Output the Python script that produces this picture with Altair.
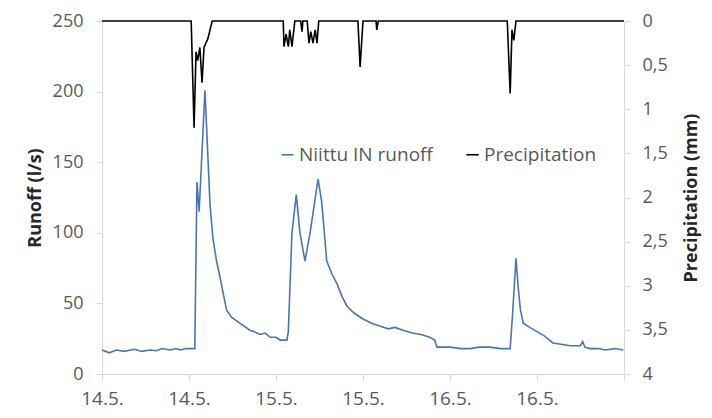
import json
import altair as alt
import pandas as pd

# Runoff (l/s), hours from 14.5. 00:00
run_h = [0, 1.0, 2.0, 3.0, 4.5, 5.5, 6.6, 7.5, 8.3, 9.4, 10.2, 10.8, 11.6, 12.1, 12.8,
         13.1, 13.4, 14.2, 14.9, 15.3, 15.8, 16.3, 16.8, 17.2, 17.9, 19.0, 20.4, 21.0,
         21.8, 22.5, 23.2, 24.0, 24.6, 25.5, 25.7, 26.2, 26.8, 27.3, 28.0, 28.7, 29.8,
         30.3, 31.0, 31.7, 32.4, 33.1, 33.8, 34.8, 36.0, 37.2, 38.3, 39.5, 40.4, 41.5,
         42.8, 44.0, 45.2, 45.9, 46.2, 48.0, 49.5, 50.8, 52.0, 53.5, 55.0, 56.3, 56.6,
         57.1, 57.4, 57.7, 58.1, 59.0, 60.0, 61.0, 62.2, 64.6, 66.0, 66.3, 66.6, 67.3,
         68.5, 69.4, 70.8, 71.9]
run_v = [17, 15, 17, 16, 17.5, 16, 17, 16.5, 18, 17, 18, 17, 18, 18, 18,
         136, 115, 201, 120, 96, 80, 68, 55, 45, 40, 36, 31, 30,
         28, 29, 26, 26, 24, 24, 30, 100, 127, 100, 80, 100, 138,
         122, 80, 71, 64, 55, 48, 43, 39, 36, 34, 32, 33, 31,
         29, 28, 26, 24, 19, 19, 18, 18, 19, 19, 18, 18, 40,
         82, 62, 46, 36, 33, 30, 27, 22, 20, 20, 23, 19, 18,
         18, 17, 18, 17]

# Precipitation (mm)
pr_h = [0, 12.3, 12.7, 12.97, 13.2, 13.5, 13.8, 14.07, 14.6, 15.2,
        25.0, 25.1, 25.4, 25.7, 25.9, 26.2, 26.6, 27.4, 27.6, 27.7,
        28.3, 28.55, 28.8, 29.1, 29.4, 29.65, 29.9,
        35.3, 35.6, 36.0, 37.8, 37.9, 38.1,
        55.9, 56.3, 56.55, 56.8, 57.1, 72]
pr_v = [0, 0, 1.21, 0.35, 0.45, 0.3, 0.7, 0.3, 0.2, 0,
        0, 0.29, 0.15, 0.29, 0.1, 0.29, 0, 0, 0.12, 0,
        0, 0.25, 0.12, 0.25, 0.1, 0.25, 0,
        0, 0.52, 0, 0, 0.1, 0,
        0, 0.82, 0.1, 0.22, 0, 0]

x_ticks = [0, 12, 24, 36, 48, 60, 72]
x_labels = ["14.5.", "14.5.", "15.5.", "15.5.", "16.5.", "16.5.", ""]
y_left_ticks = [0, 50, 100, 150, 200, 250]
y_right_ticks = [0, 0.5, 1, 1.5, 2, 2.5, 3, 3.5, 4]
series = ["Niittu IN runoff", "Precipitation"]
colors = ["#4a76b0", "#000000"]

df_run = pd.DataFrame({"h": run_h, "v": run_v, "s": series[0]})
df_pr = pd.DataFrame({"h": pr_h, "v": pr_v, "s": series[1]})

FONT = "Open Sans"
label_col = "#595959"
axis_col = "#d9d9d9"

xenc = alt.X("h:Q", scale=alt.Scale(domain=[0, 72], nice=False, zero=False),
             axis=alt.Axis(values=x_ticks, labelExpr=json.dumps(x_labels) + "[round(datum.value/12)]",
                           title=None, grid=False, domainColor=axis_col, tickColor=axis_col,
                           tickSize=7, labelPadding=8, labelFontSize=19, labelFont=FONT,
                           labelColor=label_col, labelFlush=False))

color = alt.Color("s:N", scale=alt.Scale(domain=series, range=colors),
                  legend=alt.Legend(title=None, orient="none", legendX=176, legendY=124,
                                    direction="horizontal", symbolType="stroke",
                                    symbolSize=150, symbolStrokeWidth=1.6, labelFontSize=19,
                                    labelFont=FONT, labelColor=label_col, columnPadding=30,
                                    symbolOffset=0, labelOffset=2, padding=0))

runoff = alt.Chart(df_run).mark_line(strokeWidth=1.6).encode(
    x=xenc,
    y=alt.Y("v:Q", scale=alt.Scale(domain=[0, 250], nice=False),
            axis=alt.Axis(values=y_left_ticks, title="Runoff (l/s)", grid=False,
                          domainColor=axis_col, tickColor=axis_col, tickSize=6,
                          labelPadding=13, labelFontSize=18, labelFont=FONT, labelColor=label_col,
                          titleFont=FONT, titleFontSize=18, titleFontWeight="bold",
                          titleColor="#262626", titlePadding=8)),
    color=color,
)

precip = alt.Chart(df_pr).mark_line(strokeWidth=1.6).encode(
    x=alt.X("h:Q"),
    y=alt.Y("v:Q", scale=alt.Scale(domain=[0, 4], reverse=True, nice=False),
            axis=alt.Axis(values=y_right_ticks, orient="right", title="Precipitation (mm)",
                          labelExpr="replace(toString(datum.value), '.', ',')", grid=False,
                          domainColor=axis_col, tickColor=axis_col, tickSize=6,
                          labelPadding=12, labelFontSize=18, labelFont=FONT, labelColor=label_col,
                          titleFont=FONT, titleFontSize=18, titleFontWeight="bold",
                          titleColor="#262626", titlePadding=15, titleAngle=270,
                          titleBaseline="top")),
    color=color,
)

chart = alt.layer(runoff, precip).resolve_scale(y="independent").properties(
    width=522, height=353,
    padding={"left": 94, "top": 13, "right": 80, "bottom": 44},
    autosize=alt.AutoSizeParams(type="none"),
    background="white",
).configure_view(stroke=None)

chart.save("out.html", embed_options={"renderer": "svg", "actions": False})
